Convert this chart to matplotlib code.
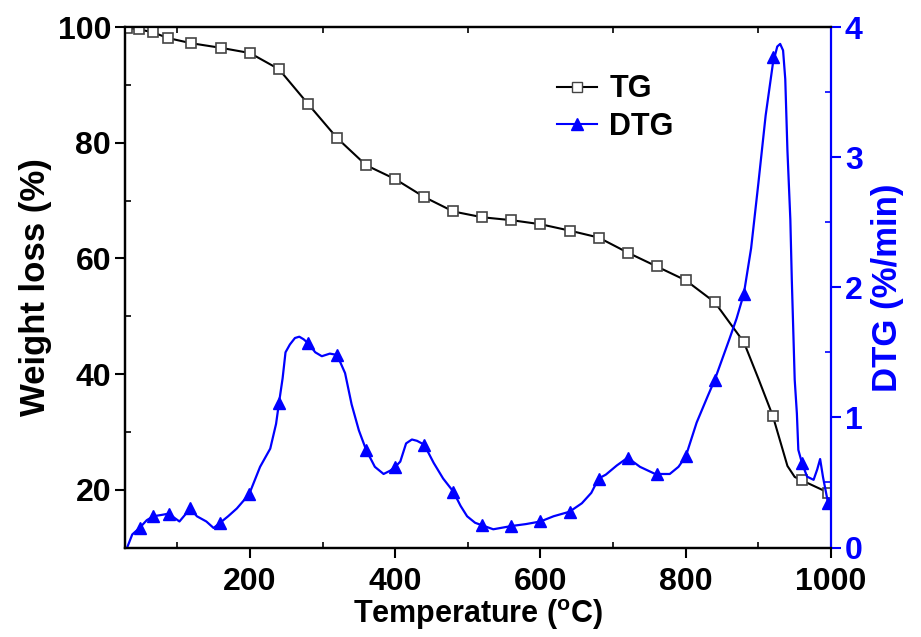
import numpy as np
import matplotlib
matplotlib.use("Agg")
import matplotlib.pyplot as plt
from matplotlib.ticker import MultipleLocator

plt.rcParams["font.family"] = ["Liberation Sans", "DejaVu Sans"]
plt.rcParams["font.weight"] = "bold"
plt.rcParams["mathtext.fontset"] = "custom"
plt.rcParams["mathtext.rm"] = "Liberation Sans:bold"
plt.rcParams["mathtext.default"] = "rm"

# TG curve (weight %), marker points
tg_temp = [31, 47, 66, 87, 119, 160, 200, 240, 280, 320, 360, 400, 440, 480,
           520, 560, 600, 640, 680, 720, 760, 800, 840, 880, 920, 960, 996]
tg_val = [99.8, 99.6, 99.1, 98.1, 97.2, 96.4, 95.5, 92.7, 86.7, 80.8, 76.1,
          73.7, 70.6, 68.1, 67.1, 66.6, 65.9, 64.8, 63.6, 61.0, 58.6, 56.2,
          52.4, 45.5, 32.7, 21.6, 19.5]
# extra read points on the TG line between markers
tg_line_temp = [900, 940, 950]
tg_line_val = [39.2, 24.1, 22.2]

# DTG curve (%/min)
dtg_temp = [31, 38, 48, 58, 67, 78, 88, 103, 118, 127, 140, 150, 159, 170,
            182, 199, 214, 228, 236, 240, 245, 249, 255, 262, 268, 274, 280,
            290, 299, 310, 320, 331, 340, 350, 360, 372, 384, 393, 400, 407,
            415, 423, 430, 440, 453, 466, 480, 490, 499, 510, 520, 535, 560,
            580, 600, 618, 640, 657, 670, 680, 690, 705, 720, 737, 758, 778,
            790, 800, 815, 830, 840, 860, 870, 880, 890, 900, 910, 920, 926,
            930, 934, 937, 940, 944, 946, 950, 953, 955, 960, 967, 976, 981,
            985, 989, 996]
dtg_val = [0.0, 0.10, 0.15, 0.21, 0.24, 0.25, 0.26, 0.20, 0.30, 0.24, 0.20,
           0.15, 0.19, 0.24, 0.30, 0.41, 0.62, 0.76, 0.95, 1.11, 1.30, 1.50,
           1.56, 1.61, 1.62, 1.60, 1.57, 1.50, 1.47, 1.49, 1.48, 1.34, 1.10,
           0.90, 0.75, 0.62, 0.565, 0.59, 0.62, 0.66, 0.80, 0.83, 0.82, 0.79,
           0.65, 0.53, 0.43, 0.32, 0.24, 0.19, 0.17, 0.14, 0.165, 0.18, 0.20,
           0.24, 0.275, 0.34, 0.42, 0.53, 0.56, 0.63, 0.69, 0.62, 0.565,
           0.565, 0.62, 0.70, 0.96, 1.16, 1.29, 1.60, 1.76, 1.95, 2.30, 2.80,
           3.32, 3.72, 3.85, 3.87, 3.82, 3.60, 3.05, 2.52, 2.06, 1.29, 1.03,
           0.75, 0.65, 0.545, 0.52, 0.60, 0.68, 0.54, 0.34]
# DTG marker points
dtg_mark_temp = [48, 67, 88, 118, 159, 199, 240, 280, 320, 360, 400, 440, 480,
                 520, 560, 600, 640, 680, 720, 760, 800, 840, 880, 920, 960, 996]
dtg_mark_val = [0.15, 0.24, 0.26, 0.30, 0.19, 0.41, 1.11, 1.57, 1.48, 0.75,
                0.62, 0.79, 0.43, 0.17, 0.165, 0.20, 0.275, 0.53, 0.69, 0.565,
                0.70, 1.29, 1.95, 3.77, 0.65, 0.34]

fig = plt.figure(figsize=(9.21, 6.37), dpi=100)
ax = fig.add_axes([0.1357, 0.1405, 0.7666, 0.8171])
ax2 = ax.twinx()

# TG line through markers and extra points
line_t = np.array(tg_temp + tg_line_temp)
line_v = np.array(tg_val + tg_line_val)
order = np.argsort(line_t)
ax.plot(line_t[order], line_v[order], color="black", lw=1.5, zorder=2)
ax.plot(tg_temp, tg_val, ls="none", marker="s", ms=7, mfc="white",
        mec="#444444", mew=1.2, zorder=3)

ax2.plot(dtg_temp, dtg_val, color="blue", lw=1.6)
ax2.plot(dtg_mark_temp, dtg_mark_val, ls="none", marker="^", ms=9,
         color="blue")

ax.set_xlim(28, 1000)
ax.set_ylim(10, 100)
ax2.set_ylim(0, 4)

ax.xaxis.set_major_locator(MultipleLocator(200))
ax.xaxis.set_minor_locator(MultipleLocator(100))
ax.yaxis.set_major_locator(MultipleLocator(20))
ax.yaxis.set_minor_locator(MultipleLocator(10))
ax2.yaxis.set_major_locator(MultipleLocator(1))
ax2.yaxis.set_minor_locator(MultipleLocator(0.5))

ax.tick_params(axis="both", which="major", direction="out", length=7,
               width=1.5, labelsize=23, pad=3)
ax.tick_params(axis="x", which="major", pad=7)
ax.tick_params(axis="both", which="minor", direction="in", length=4,
               width=1.2)
ax.tick_params(axis="x", which="both", top=True)
ax.tick_params(axis="x", which="major", top=False)
ax2.tick_params(axis="y", which="major", direction="out", length=7,
                width=1.5, labelsize=23, colors="blue", pad=3)
ax2.tick_params(axis="y", which="minor", direction="in", length=4,
                width=1.2, colors="blue")

for side in ["left", "bottom", "top"]:
    ax.spines[side].set_linewidth(1.6)
    ax2.spines[side].set_linewidth(1.6)
ax2.spines["right"].set_color("blue")
ax2.spines["right"].set_linewidth(1.6)
ax.spines["right"].set_visible(False)

ax.set_xlabel(r"Temperature ($^{\mathrm{o}}$C)", fontsize=22,
              fontweight="bold", labelpad=0)
ax.set_ylabel("Weight loss (%)", fontsize=25, fontweight="bold", labelpad=4)
ax2.set_ylabel("DTG (%/min)", fontsize=25, fontweight="bold", color="blue",
               labelpad=6)

h1 = plt.Line2D([], [], color="black", lw=1.5, marker="s", ms=7, mfc="white",
                mec="#444444")
h2 = plt.Line2D([], [], color="blue", lw=1.5, marker="^", ms=9)
ax2.legend([h1, h2], ["TG", "DTG"], loc="upper left",
           bbox_to_anchor=(0.582, 0.95), frameon=False, fontsize=22,
           handlelength=1.3, handletextpad=0.4, labelspacing=0.25,
           borderpad=0.2)

fig.savefig("out.png", dpi=100)
